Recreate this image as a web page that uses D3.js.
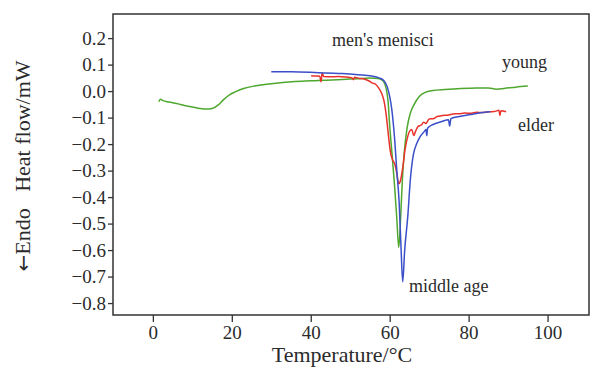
<!DOCTYPE html>
<html>
<head>
<meta charset="utf-8">
<script src="https://cdn.jsdelivr.net/npm/d3@7"></script>
<style>
  body { margin: 0; background: #fff; }
  text { font-family: "Liberation Serif", "Times New Roman", serif; fill: #2b2b2b; }
</style>
</head>
<body>
<svg id="chart" width="590" height="367"></svg>
<script>
// DSC curves: [temperature °C, heat flow mW]
var young = [[1.5,-0.040],[1.9,-0.031],[2.6,-0.036],[4,-0.041],[6,-0.047],[8,-0.054],[10,-0.060],[12,-0.066],[13.8,-0.068],[15,-0.066],[16.5,-0.053],[18,-0.031],[19.5,-0.013],[21,-0.002],[23,0.010],[26,0.020],[30,0.028],[36,0.036],[42,0.040],[48,0.044],[52,0.047],[55,0.049],[57,0.048],[58.2,0.040],[59.1,0.010],[59.6,-0.040],[60.0,-0.13],[60.5,-0.22],[61.2,-0.35],[61.8,-0.48],[62.3,-0.59],[62.8,-0.47],[63.2,-0.34],[63.7,-0.23],[64.4,-0.14],[65.2,-0.085],[66.2,-0.050],[67.5,-0.020],[69,-0.005],[71,0.002],[74,0.006],[78,0.010],[82,0.012],[85,0.012],[87,0.007],[89,0.010],[92,0.015],[95,0.019]];

var middleAge = [[30,0.073],[35,0.073],[40,0.071],[44,0.068],[48,0.066],[52,0.062],[55.5,0.057],[57.3,0.050],[58.5,0.040],[59.4,0.015],[60.0,-0.020],[60.5,-0.065],[61.2,-0.17],[61.8,-0.30],[62.4,-0.42],[62.9,-0.60],[63.3,-0.72],[63.8,-0.60],[64.6,-0.47],[65.2,-0.34],[66.0,-0.24],[66.8,-0.20],[67.8,-0.170],[68.8,-0.152],[69.2,-0.145],[69.4,-0.168],[69.6,-0.140],[71,-0.126],[73,-0.116],[74.9,-0.108],[75.2,-0.132],[75.5,-0.104],[78,-0.095],[81,-0.087],[84,-0.080],[85.5,-0.078]];

var elder = [[40.1,0.058],[41,0.057],[42.3,0.056],[42.6,0.035],[42.9,0.068],[43.3,0.055],[45,0.054],[47,0.055],[49,0.053],[50.5,0.050],[50.8,0.043],[51.1,0.052],[52.3,0.048],[53.5,0.046],[54.8,0.038],[55.7,0.030],[56.5,0.025],[57.2,0.012],[58.0,-0.010],[58.6,-0.040],[59.2,-0.10],[59.7,-0.17],[60.2,-0.23],[60.8,-0.262],[61.3,-0.275],[61.8,-0.31],[62.3,-0.350],[62.7,-0.34],[63.3,-0.29],[63.9,-0.22],[64.6,-0.17],[65.1,-0.150],[65.6,-0.145],[66.1,-0.168],[66.6,-0.150],[67.2,-0.133],[68.0,-0.128],[68.6,-0.118],[69.2,-0.122],[70,-0.105],[71,-0.104],[72,-0.096],[73.4,-0.092],[75,-0.090],[76,-0.086],[77.6,-0.085],[79,-0.083],[80.5,-0.084],[82,-0.080],[83.5,-0.081],[85,-0.078],[86.5,-0.077],[87.7,-0.072],[87.9,-0.092],[88.2,-0.074],[89.5,-0.078]];

var xTicks = [0, 20, 40, 60, 80, 100];
var yTicks = [0.2, 0.1, 0.0, -0.1, -0.2, -0.3, -0.4, -0.5, -0.6, -0.7, -0.8];

var series = [
    { name: "young", values: young, color: "#4ea72e" },
    { name: "elder", values: elder, color: "#e8322b" },
    { name: "middle age", values: middleAge, color: "#3b4fc9" }
];

var svg = d3.select("#chart");
var margin = { top: 14, right: 1, bottom: 52, left: 113 };
var width = 590, height = 367;

var xScale = d3.scaleLinear()
    .domain([-10.1, 110.5])
    .range([margin.left, width - margin.right]);

var yScale = d3.scaleLinear()
    .domain([-0.845, 0.291])
    .range([height - margin.bottom, margin.top]);

var line = d3.line()
    .x(function (d) { return xScale(d[0]); })
    .y(function (d) { return yScale(d[1]); })
    .curve(d3.curveMonotoneX);

svg.selectAll(".line").data(series).enter().append("path")
    .attr("class", "line")
    .attr("fill", "none")
    .attr("stroke", function (d) { return d.color; })
    .attr("stroke-width", 1.5)
    .attr("d", function (d) { return line(d.values); });

// frame
svg.append("rect")
    .attr("x", margin.left)
    .attr("y", margin.top)
    .attr("width", width - margin.right - margin.left)
    .attr("height", height - margin.bottom - margin.top)
    .attr("fill", "none")
    .attr("stroke", "#333")
    .attr("stroke-width", 1.5);

var xAxis = svg.append("g")
    .attr("transform", "translate(0," + (height - margin.bottom) + ")")
    .call(d3.axisBottom(xScale).tickValues(xTicks).tickSize(7).tickPadding(4));

var yAxis = svg.append("g")
    .attr("transform", "translate(" + margin.left + ",0)")
    .call(d3.axisLeft(yScale).tickValues(yTicks).tickSize(5).tickPadding(2).tickFormat(d3.format(".1f")));

[xAxis, yAxis].forEach(function (g)
{
    g.select(".domain").remove();
    g.selectAll("line").attr("stroke", "#333").attr("stroke-width", 1.3);
    g.selectAll("text").style("font-family", "'Liberation Serif', serif").style("font-size", "19px").attr("fill", "#2b2b2b");
});

svg.append("text")
    .attr("x", 342)
    .attr("y", 362)
    .attr("text-anchor", "middle")
    .style("font-size", "22px")
    .text("Temperature/°C");

var yLabel = svg.append("text")
    .attr("transform", "translate(30,166) rotate(-90)")
    .attr("text-anchor", "middle")
    .attr("xml:space", "preserve")
    .style("font-size", "22px");
yLabel.append("tspan")
    .style("font-family", "'DejaVu Sans', sans-serif")
    .style("font-size", "20px")
    .text("←");
yLabel.append("tspan").text("Endo   Heat flow/mW");

var notes = [
    { text: "men's menisci", x: 332, y: 46 },
    { text: "young", x: 502, y: 68 },
    { text: "elder", x: 518, y: 131 },
    { text: "middle age", x: 409, y: 292 }
];

svg.selectAll(".note").data(notes).enter().append("text")
    .attr("class", "note")
    .attr("x", function (d) { return d.x; })
    .attr("y", function (d) { return d.y; })
    .style("font-size", "18px")
    .text(function (d) { return d.text; });
</script>
</body>
</html>
